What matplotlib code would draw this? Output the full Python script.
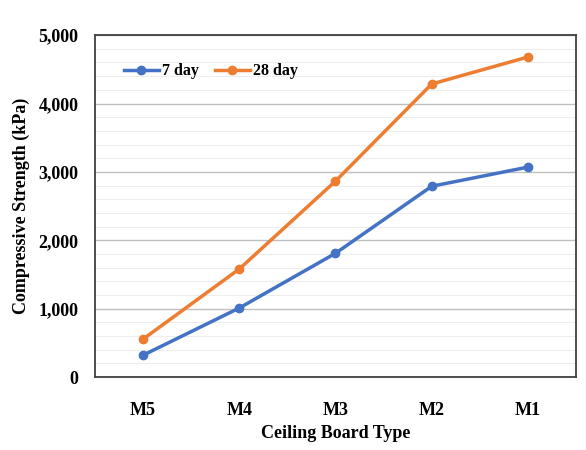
import matplotlib.pyplot as plt
from matplotlib.ticker import MultipleLocator, FuncFormatter

board_types = ["M5", "M4", "M3", "M2", "M1"]
strength_7day = [320, 1010, 1810, 2790, 3070]
strength_28day = [555, 1580, 2865, 4285, 4680]

BLUE = "#4472C4"
ORANGE = "#ED7D31"

plt.rcParams["font.family"] = ["Liberation Serif", "DejaVu Serif"]
plt.rcParams["font.weight"] = "bold"

fig = plt.figure(figsize=(5.86, 4.5), dpi=100)
ax = fig.add_axes([0.162, 0.162, 0.821, 0.760])

x = range(len(board_types))
ax.plot(x, strength_7day, color=BLUE, lw=2.5, marker="o", ms=6, label="7 day")
ax.plot(x, strength_28day, color=ORANGE, lw=2.5, marker="o", ms=6, label="28 day")

ax.set_xlim(-0.5, len(board_types) - 0.5)
ax.set_ylim(0, 5000)
ax.set_xticks(list(x))
ax.set_xticklabels(board_types)
ax.yaxis.set_major_locator(MultipleLocator(1000))
ax.yaxis.set_minor_locator(MultipleLocator(200))
ax.yaxis.set_major_formatter(FuncFormatter(lambda v, p: f"{int(v):,}"))

ax.grid(True, which="major", axis="y", color="#BFBFBF", lw=1.0)
ax.grid(True, which="minor", axis="y", color="#EDEDED", lw=0.8)
ax.set_axisbelow(True)

ax.tick_params(axis="y", which="both", length=0, labelsize=13, pad=12)
ax.tick_params(axis="x", which="both", length=0, labelsize=13, pad=18)
for s in ax.spines.values():
    s.set_color("#404040")
    s.set_linewidth(1.3)

ax.set_xlabel("Ceiling Board Type", fontsize=13, fontweight="bold", labelpad=4)
ax.set_ylabel("Compressive Strength (kPa)", fontsize=13, fontweight="bold", labelpad=6)

ax.legend(loc="upper left", bbox_to_anchor=(0.03, 0.96), ncol=2, frameon=False,
          fontsize=11.5, handlelength=2.2, handletextpad=0.2, columnspacing=1.0)

fig.savefig("out.png", dpi=100)
